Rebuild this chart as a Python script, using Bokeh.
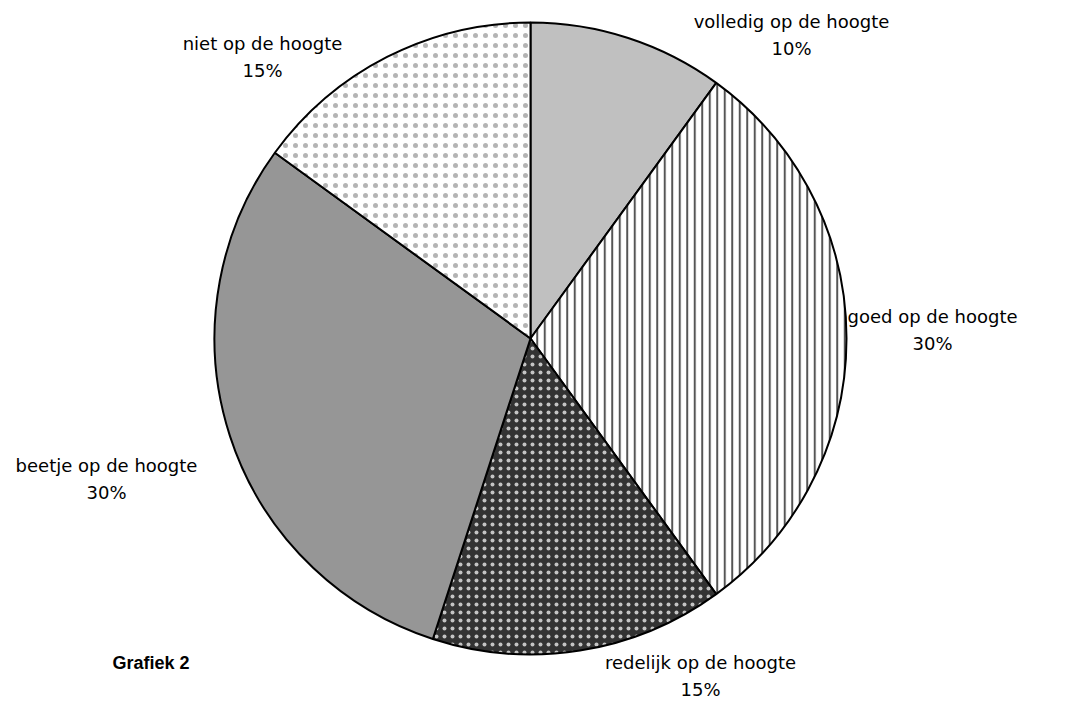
import math
from bokeh.plotting import figure
from bokeh.models import Range1d
from bokeh.core.properties import value
from bokeh.embed import file_html
from bokeh.resources import INLINE

# ---- data ----
categories = ["volledig op de hoogte", "goed op de hoogte", "redelijk op de hoogte",
              "beetje op de hoogte", "niet op de hoogte"]
shares = [10, 30, 15, 30, 15]

# ---- styles (per slice) ----
fills = ["#c0c0c0", "#ffffff", "#333333", "#969696", "#ffffff"]
hatches = [None, "vertical_line", "dot", None, "dot"]
hatch_colors = [None, "#555555", "#c4c4c4", None, "#b4b4b4"]
hatch_scales = [None, 7.5, 8, None, 10]
hatch_weights = [None, 2, 1, None, 1]

# label positions in page pixels (layout)
label_px = [(791, 21), (932, 316), (700, 662), (106, 465), (262, 43)]

W, H = 1066, 702
CX, CY, R = 530, 338, 316

def dx(px):
    return px

def dy(py):
    return H - py

p = figure(width=W, height=H, output_backend="svg", toolbar_location=None,
           x_range=Range1d(0, W), y_range=Range1d(0, H), min_border=0,
           outline_line_color=None, background_fill_color="white")
p.axis.visible = False
p.grid.visible = False

total = float(sum(shares))
cum = 0.0
for i, s in enumerate(shares):
    start = 90 - cum / total * 360
    cum += s
    end = 90 - cum / total * 360
    kw = dict(x=[dx(CX)], y=[dy(CY)], radius=R, start_angle=start, end_angle=end,
              start_angle_units="deg", end_angle_units="deg", direction="clock",
              fill_color=fills[i], line_color="black", line_width=2)
    if hatches[i]:
        kw.update(hatch_pattern=hatches[i], hatch_color=hatch_colors[i],
                  hatch_scale=hatch_scales[i], hatch_weight=hatch_weights[i])
    p.wedge(**kw)

font = value("DejaVu Sans")
for i, cat in enumerate(categories):
    lx, ly = label_px[i]
    p.text(x=[dx(lx)], y=[dy(ly)], text=[cat], text_font=font, text_font_size="18px",
           text_align="center", text_baseline="middle", text_color="black")
    p.text(x=[dx(lx)], y=[dy(ly + 27)], text=["%d%%" % round(shares[i] / total * 100)],
           text_font=font, text_font_size="18px",
           text_align="center", text_baseline="middle", text_color="black")

p.text(x=[dx(112)], y=[dy(662)], text=["Grafiek 2"], text_font=value("Liberation Sans"),
       text_font_size="18px", text_font_style="bold",
       text_align="left", text_baseline="middle", text_color="black")

open("out.html", "w").write(file_html(p, INLINE))
